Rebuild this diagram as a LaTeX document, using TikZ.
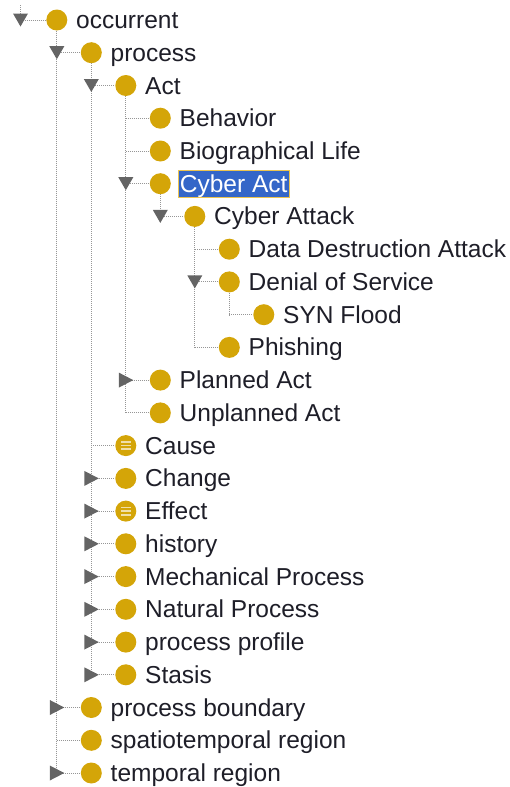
\documentclass[tikz,border=0pt]{standalone}
\usepackage{fontspec}
\setmainfont{Liberation Sans}
\usetikzlibrary{positioning,backgrounds}
\definecolor{clsgold}{RGB}{212,165,8}
\definecolor{txtdark}{RGB}{30,30,40}
\definecolor{selblue}{RGB}{52,102,200}
\definecolor{selyellow}{RGB}{236,196,80}
\definecolor{linegray}{RGB}{150,150,150}
\definecolor{togglegray}{RGB}{100,100,100}
\tikzset{%
  % Specifications for style of nodes:
             cls/.style = {circle, fill=clsgold, minimum size=21pt,
                           inner sep=0pt},
          defcls/.style = {cls, path picture={
                             \draw[white!65!clsgold, line width=1.7pt]
                               ([xshift=-5pt, yshift=3.6pt]path picture bounding box.center) -- ++(10,0)
                               ([xshift=-5pt]path picture bounding box.center) -- ++(10,0)
                               ([xshift=-5pt, yshift=-3.6pt]path picture bounding box.center) -- ++(10,0);}},
             txt/.style = {inner sep=0pt, text height=22pt, text depth=5pt,
                           text=txtdark, font=\fontsize{24.5}{28}\selectfont},
        selected/.style = {txt, inner xsep=2pt, fill=selblue, draw=selyellow,
                           line width=0.8pt, text=white},
            tree/.style = {draw=linegray, line width=1pt,
                           dash pattern=on 1pt off 1pt},
  % Specifications for the handles:
        expanded/.pic = {\fill[togglegray] (-7.5,-6.5) -- (7.5,-6.5) -- (0,6.5) -- cycle;},
       collapsed/.pic = {\fill[togglegray] (-7,-7.5) -- (-7,7.5) -- (7.5,0) -- cycle;},
}

\begin{document}
\begin{tikzpicture}[x=1pt, y=-1pt, node distance=8.5pt]
\useasboundingbox (0,0) rectangle (509,787);

\node (occ)    [cls]    at (56.8,20.0)   {};
\node (proc)   [cls]    at (91.3,52.7)   {};
\node (act)    [cls]    at (125.8,85.5)  {};
\node (behav)  [cls]    at (160.3,118.2) {};
\node (bio)    [cls]    at (160.3,151.0) {};
\node (cact)   [cls]    at (160.3,183.7) {};
\node (catk)   [cls]    at (194.8,216.4) {};
\node (ddest)  [cls]    at (229.3,249.2) {};
\node (dos)    [cls]    at (229.3,281.9) {};
\node (syn)    [cls]    at (263.8,314.7) {};
\node (phish)  [cls]    at (229.3,347.4) {};
\node (pact)   [cls]    at (160.3,380.1) {};
\node (uact)   [cls]    at (160.3,412.9) {};
\node (cause)  [defcls] at (125.8,445.6) {};
\node (change) [cls]    at (125.8,478.4) {};
\node (effect) [defcls] at (125.8,511.1) {};
\node (hist)   [cls]    at (125.8,543.8) {};
\node (mech)   [cls]    at (125.8,576.6) {};
\node (nat)    [cls]    at (125.8,609.3) {};
\node (pprof)  [cls]    at (125.8,642.1) {};
\node (stasis) [cls]    at (125.8,674.8) {};
\node (pbound) [cls]    at (91.3,707.5)  {};
\node (streg)  [cls]    at (91.3,740.3)  {};
\node (treg)   [cls]    at (91.3,773.0)  {};

\node (occL)    [txt, right=of occ]    {occurrent};
\node (procL)   [txt, right=of proc]   {process};
\node (actL)    [txt, right=of act]    {Act};
\node (behavL)  [txt, right=of behav]  {Behavior};
\node (bioL)    [txt, right=of bio]    {Biographical Life};
\node (cactL)   [selected, right=6.5pt of cact] {Cyber Act};
\node (catkL)   [txt, right=of catk]   {Cyber Attack};
\node (ddestL)  [txt, right=of ddest]  {Data Destruction Attack};
\node (dosL)    [txt, right=of dos]    {Denial of Service};
\node (synL)    [txt, right=of syn]    {SYN Flood};
\node (phishL)  [txt, right=of phish]  {Phishing};
\node (pactL)   [txt, right=of pact]   {Planned Act};
\node (uactL)   [txt, right=of uact]   {Unplanned Act};
\node (causeL)  [txt, right=of cause]  {Cause};
\node (changeL) [txt, right=of change] {Change};
\node (effectL) [txt, right=of effect] {Effect};
\node (histL)   [txt, right=of hist]   {history};
\node (mechL)   [txt, right=of mech]   {Mechanical Process};
\node (natL)    [txt, right=of nat]    {Natural Process};
\node (pprofL)  [txt, right=of pprof]  {process profile};
\node (stasisL) [txt, right=of stasis] {Stasis};
\node (pboundL) [txt, right=of pbound] {process boundary};
\node (stregL)  [txt, right=of streg]  {spatiotemporal region};
\node (tregL)   [txt, right=of treg]   {temporal region};

% handles sit below the parent, on the row of the child
\coordinate (top)     at (20.5,5);
\coordinate (tocc)    at (20.5,20.0);
\coordinate (tproc)   at (occ |- proc);
\coordinate (tact)    at (proc |- act);
\coordinate (tbehav)  at (act |- behav);
\coordinate (tbio)    at (act |- bio);
\coordinate (tcact)   at (act |- cact);
\coordinate (tcatk)   at (cact |- catk);
\coordinate (tddest)  at (catk |- ddest);
\coordinate (tdos)    at (catk |- dos);
\coordinate (tsyn)    at (dos |- syn);
\coordinate (tphish)  at (catk |- phish);
\coordinate (tpact)   at (act |- pact);
\coordinate (tuact)   at (act |- uact);
\coordinate (tcause)  at (proc |- cause);
\coordinate (tchange) at (proc |- change);
\coordinate (teffect) at (proc |- effect);
\coordinate (thist)   at (proc |- hist);
\coordinate (tmech)   at (proc |- mech);
\coordinate (tnat)    at (proc |- nat);
\coordinate (tpprof)  at (proc |- pprof);
\coordinate (tstasis) at (proc |- stasis);
\coordinate (tpbound) at (occ |- pbound);
\coordinate (tstreg)  at (occ |- streg);
\coordinate (ttreg)   at (occ |- treg);

\begin{pgfonlayer}{background}
\draw[tree]             (top) -- (tocc);
\draw[tree]             (occ) -- (ttreg);
\draw[tree]             (proc) -- (tstasis);
\draw[tree]             (act) -- (tuact);
\draw[tree]             (cact) -- (tcatk);
\draw[tree]             (catk) -- (tphish);
\draw[tree]             (dos) -- (tsyn);

\draw[tree]             (tocc) -- (occ);
\draw[tree]             (tproc) -- (proc);
\draw[tree]             (tact) -- (act);
\draw[tree]             (tbehav) -- (behav);
\draw[tree]             (tbio) -- (bio);
\draw[tree]             (tcact) -- (cact);
\draw[tree]             (tcatk) -- (catk);
\draw[tree]             (tddest) -- (ddest);
\draw[tree]             (tdos) -- (dos);
\draw[tree]             (tsyn) -- (syn);
\draw[tree]             (tphish) -- (phish);
\draw[tree]             (tpact) -- (pact);
\draw[tree]             (tuact) -- (uact);
\draw[tree]             (tcause) -- (cause);
\draw[tree]             (tchange) -- (change);
\draw[tree]             (teffect) -- (effect);
\draw[tree]             (thist) -- (hist);
\draw[tree]             (tmech) -- (mech);
\draw[tree]             (tnat) -- (nat);
\draw[tree]             (tpprof) -- (pprof);
\draw[tree]             (tstasis) -- (stasis);
\draw[tree]             (tpbound) -- (pbound);
\draw[tree]             (tstreg) -- (streg);
\draw[tree]             (ttreg) -- (treg);
\end{pgfonlayer}

\pic at (tocc)    {expanded};
\pic at (tproc)   {expanded};
\pic at (tact)    {expanded};
\pic at (tcact)   {expanded};
\pic at (tcatk)   {expanded};
\pic at (tdos)    {expanded};
\pic at (tpact)   {collapsed};
\pic at (tchange) {collapsed};
\pic at (teffect) {collapsed};
\pic at (thist)   {collapsed};
\pic at (tmech)   {collapsed};
\pic at (tnat)    {collapsed};
\pic at (tpprof)  {collapsed};
\pic at (tstasis) {collapsed};
\pic at (tpbound) {collapsed};
\pic at (ttreg)   {collapsed};
\end{tikzpicture}
\end{document}
